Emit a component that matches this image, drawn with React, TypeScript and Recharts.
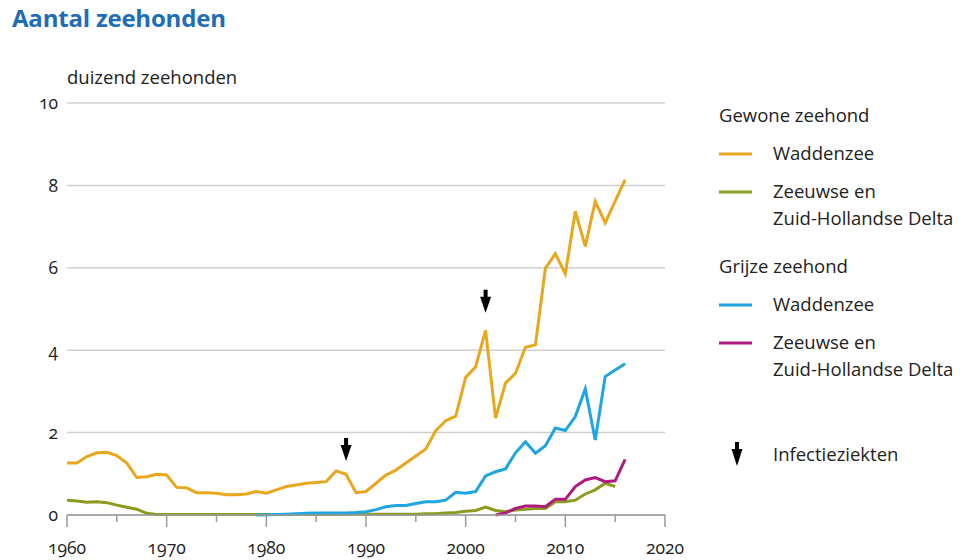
import React from "react";
import { LineChart, Line, XAxis, YAxis, CartesianGrid, ReferenceDot } from "recharts";

// Years 1960..2016
const startYear = 1960;
const endYear = 2016;

// Gewone zeehond – Waddenzee (1960–2016), duizend
const gewoneWadden = [
  1.26, 1.26, 1.42, 1.51, 1.52, 1.44, 1.26, 0.91, 0.93, 0.99,
  0.97, 0.67, 0.66, 0.54, 0.54, 0.53, 0.49, 0.49, 0.51, 0.57,
  0.53, 0.61, 0.69, 0.73, 0.77, 0.79, 0.81, 1.07, 0.99, 0.54,
  0.57, 0.77, 0.97, 1.09, 1.26, 1.43, 1.6, 2.05, 2.29, 2.4,
  3.34, 3.6, 4.48, 2.35, 3.2, 3.44, 4.07, 4.13, 5.99, 6.34,
  5.85, 7.37, 6.52, 7.61, 7.09, 7.62, 8.14,
];

// Gewone zeehond – Zeeuwse en Zuid-Hollandse Delta (1960–2015)
const gewoneDelta = [
  0.36, 0.34, 0.31, 0.32, 0.3, 0.24, 0.19, 0.14, 0.04, 0.01,
  0.01, 0.01, 0.01, 0.01, 0.01, 0.01, 0.01, 0.01, 0.01, 0.01,
  0.01, 0.01, 0.01, 0.01, 0.01, 0.01, 0.01, 0.01, 0.02, 0.02,
  0.02, 0.02, 0.02, 0.02, 0.02, 0.02, 0.03, 0.03, 0.05, 0.06,
  0.09, 0.11, 0.19, 0.11, 0.08, 0.12, 0.14, 0.16, 0.16, 0.32,
  0.32, 0.36, 0.51, 0.61, 0.77, 0.69,
];

// Grijze zeehond – Waddenzee (1979–2016)
const grijzeWaddenStart = 1979;
const grijzeWadden = [
  0.0, 0.005, 0.01, 0.02, 0.03, 0.04, 0.05, 0.05, 0.05, 0.05,
  0.06, 0.08, 0.13, 0.2, 0.23, 0.23, 0.28, 0.32, 0.32, 0.36,
  0.55, 0.53, 0.57, 0.95, 1.05, 1.12, 1.51, 1.78, 1.5, 1.68,
  2.11, 2.05, 2.39, 3.06, 1.82, 3.36, 3.52, 3.67,
];

// Grijze zeehond – Zeeuwse en Zuid-Hollandse Delta (2003–2016)
const grijzeDeltaStart = 2003;
const grijzeDelta = [
  0.0, 0.05, 0.16, 0.22, 0.22, 0.2, 0.38, 0.38, 0.69, 0.85,
  0.91, 0.81, 0.83, 1.35,
];

// Infectieziekten (arrow tips)
const infectionYears = [1988, 2002];
const infectionArrowValues = [1.31, 4.91];

const xTicks = [1960, 1965, 1970, 1975, 1980, 1985, 1990, 1995, 2000, 2005, 2010, 2015, 2020];
const yTicks = [0, 2, 4, 6, 8, 10];

const COLORS = {
  gewoneWadden: "#E9A71C",
  gewoneDelta: "#8C9A1E",
  grijzeWadden: "#1DA6E1",
  grijzeDelta: "#B01A7E",
};

const FONT = "'Open Sans', 'Noto Sans', sans-serif";
const TEXT = "#222";
const LEG_FS = 18.5;

const data = (() => {
  const rows: any[] = [];
  for (let y = startYear; y <= endYear; y++) {
    const i = y - startYear;
    rows.push({
      year: y,
      gewoneWadden: i < gewoneWadden.length ? gewoneWadden[i] : null,
      gewoneDelta: i < gewoneDelta.length ? gewoneDelta[i] : null,
      grijzeWadden:
        y >= grijzeWaddenStart && y - grijzeWaddenStart < grijzeWadden.length
          ? grijzeWadden[y - grijzeWaddenStart]
          : null,
      grijzeDelta:
        y >= grijzeDeltaStart && y - grijzeDeltaStart < grijzeDelta.length
          ? grijzeDelta[y - grijzeDeltaStart]
          : null,
    });
  }
  return rows;
})();

const XTick = (props: any) => {
  const { x, y, payload } = props;
  const major = payload.value % 10 === 0;
  return (
    <g>
      <line x1={x} x2={x} y1={y} y2={y + (major ? 12 : 7)} stroke="#9a9a9a" strokeWidth={1.5} />
      {major && (
        <text
          x={x}
          y={y + 39}
          textAnchor="middle"
          fontFamily={FONT}
          fontSize={17.5}
          fill={TEXT}
          style={{ fontVariantNumeric: "oldstyle-nums" }}
        >
          {payload.value}
        </text>
      )}
    </g>
  );
};

const YTick = (props: any) => {
  const { x, y, payload } = props;
  return (
    <text
      x={x}
      y={y}
      dy="0.36em"
      textAnchor="end"
      fontFamily={FONT}
      fontSize={17.5}
      fill={TEXT}
      style={{ fontVariantNumeric: "oldstyle-nums" }}
    >
      {payload.value}
    </text>
  );
};

const Arrow = (props: any) => {
  const { cx, cy } = props;
  if (cx == null || cy == null) return null;
  return (
    <g>
      <rect x={cx - 2} y={cy - 23} width={4} height={8} fill="#000" />
      <polygon points={`${cx - 5.5},${cy - 16} ${cx + 5.5},${cy - 16} ${cx},${cy}`} fill="#000" />
    </g>
  );
};

const legendGroups = [
  {
    title: "Gewone zeehond",
    titleY: 116,
    items: [
      { key: "gewoneWadden", lines: ["Waddenzee"], y: 154 },
      { key: "gewoneDelta", lines: ["Zeeuwse en", "Zuid-Hollandse Delta"], y: 192 },
    ],
  },
  {
    title: "Grijze zeehond",
    titleY: 267,
    items: [
      { key: "grijzeWadden", lines: ["Waddenzee"], y: 305 },
      { key: "grijzeDelta", lines: ["Zeeuwse en", "Zuid-Hollandse Delta"], y: 343 },
    ],
  },
];

const LegendOverlay = () => (
  <svg
    width={968}
    height={560}
    style={{ position: "absolute", left: 0, top: 0, pointerEvents: "none" }}
  >
    {legendGroups.map((g) => (
      <g key={g.title}>
        <text x={719} y={g.titleY} dy="0.35em" fontFamily={FONT} fontSize={LEG_FS} fill={TEXT}>
          {g.title}
        </text>
        {g.items.map((it) => (
          <g key={it.key}>
            <line
              x1={719}
              x2={752}
              y1={it.y}
              y2={it.y}
              stroke={(COLORS as any)[it.key]}
              strokeWidth={3}
            />
            {it.lines.map((ln, j) => (
              <text
                key={j}
                x={773}
                y={it.y + j * 26.5}
                dy="0.35em"
                fontFamily={FONT}
                fontSize={LEG_FS}
                fill={TEXT}
              >
                {ln}
              </text>
            ))}
          </g>
        ))}
      </g>
    ))}
    <g>
      <rect x={735} y={442} width={4} height={8} fill="#000" />
      <polygon points="731.5,449 742.5,449 737,466" fill="#000" />
      <text x={773} y={455} dy="0.35em" fontFamily={FONT} fontSize={LEG_FS} fill={TEXT}>
        Infectieziekten
      </text>
    </g>
  </svg>
);

export default function App() {
  return (
    <div style={{ position: "absolute", left: 0, top: 0, width: 968, height: 560, background: "#fff" }}>
      <div
        style={{
          position: "absolute",
          left: 12,
          top: 1,
          fontFamily: FONT,
          fontWeight: 700,
          fontSize: 24,
          color: "#1E6DB8",
          letterSpacing: -0.2,
        }}
      >
        Aantal zeehonden
      </div>
      <div
        style={{
          position: "absolute",
          left: 67,
          top: 64,
          fontFamily: FONT,
          fontSize: LEG_FS,
          color: TEXT,
        }}
      >
        duizend zeehonden
      </div>
      <LineChart
        width={968}
        height={560}
        data={data}
        margin={{ top: 103, right: 303, left: 0, bottom: 0 }}
        style={{ position: "absolute", left: 0, top: 0 }}
      >
        <CartesianGrid horizontal vertical={false} stroke="#d0d0d0" strokeWidth={1.5} />
        <XAxis
          dataKey="year"
          type="number"
          domain={[1960, 2020]}
          ticks={xTicks}
          interval={0}
          height={45}
          axisLine={{ stroke: "#9a9a9a", strokeWidth: 1.5 }}
          tickLine={false}
          tickSize={0}
          tickMargin={0}
          tick={<XTick />}
        />
        <YAxis
          type="number"
          domain={[0, 10]}
          ticks={yTicks}
          interval={0}
          width={67}
          axisLine={false}
          tickLine={false}
          tickSize={0}
          tickMargin={9}
          tick={<YTick />}
        />
        <Line
          dataKey="gewoneDelta"
          stroke={COLORS.gewoneDelta}
          strokeWidth={3}
          dot={false}
          isAnimationActive={false}
        />
        <Line
          dataKey="grijzeDelta"
          stroke={COLORS.grijzeDelta}
          strokeWidth={3}
          dot={false}
          isAnimationActive={false}
        />
        <Line
          dataKey="grijzeWadden"
          stroke={COLORS.grijzeWadden}
          strokeWidth={3}
          dot={false}
          isAnimationActive={false}
        />
        <Line
          dataKey="gewoneWadden"
          stroke={COLORS.gewoneWadden}
          strokeWidth={3}
          dot={false}
          isAnimationActive={false}
        />
        {infectionYears.map((yr, i) => (
          <ReferenceDot
            key={yr}
            x={yr}
            y={infectionArrowValues[i]}
            r={0}
            shape={<Arrow />}
            ifOverflow="visible"
          />
        ))}
      </LineChart>
      <LegendOverlay />
    </div>
  );
}
